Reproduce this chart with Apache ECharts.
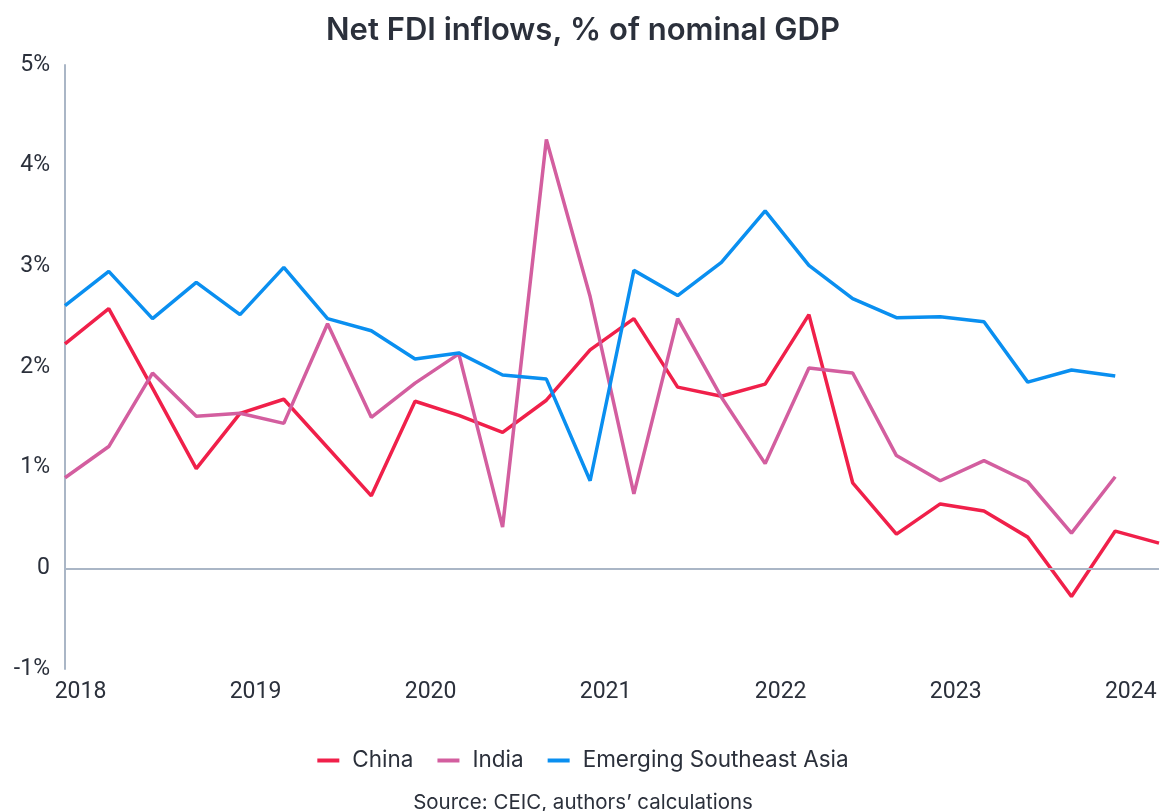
<!DOCTYPE html>
<html>
<head>
<meta charset="utf-8">
<title>Net FDI inflows</title>
<script src="https://cdn.jsdelivr.net/npm/echarts@6/dist/echarts.min.js"></script>
<style>
  html, body { margin: 0; padding: 0; background: #fff; }
  #chart { width: 1166px; height: 811px; }
</style>
</head>
<body>
<div id="chart"></div>
<script>
// quarterly categories, 2018Q1 .. 2024Q2
const quarters = [
  "2018Q1", "2018Q2", "2018Q3", "2018Q4",
  "2019Q1", "2019Q2", "2019Q3", "2019Q4",
  "2020Q1", "2020Q2", "2020Q3", "2020Q4",
  "2021Q1", "2021Q2", "2021Q3", "2021Q4",
  "2022Q1", "2022Q2", "2022Q3", "2022Q4",
  "2023Q1", "2023Q2", "2023Q3", "2023Q4",
  "2024Q1", "2024Q2"
];

// % of nominal GDP
const china = [2.23, 2.58, 1.79, 0.99, 1.54, 1.68, 1.20, 0.72,
  1.66, 1.52, 1.35, 1.67, 2.17, 2.48, 1.80, 1.71,
  1.83, 2.52, 0.85, 0.34, 0.64, 0.57, 0.31, -0.28,
  0.37, 0.25];
const india = [0.90, 1.21, 1.94, 1.51, 1.54, 1.44, 2.43, 1.50,
  1.84, 2.13, 0.41, 4.26, 2.70, 0.74, 2.48, 1.70,
  1.04, 1.99, 1.94, 1.12, 0.87, 1.07, 0.86, 0.35,
  0.91];
const esa = [2.61, 2.95, 2.48, 2.84, 2.52, 2.99, 2.48, 2.36,
  2.08, 2.14, 1.92, 1.88, 0.87, 2.96, 2.71, 3.04,
  3.55, 3.01, 2.68, 2.49, 2.50, 2.45, 1.85, 1.97,
  1.91];

const yTicks = [-1, 0, 1, 2, 3, 4, 5];

const textColor = "#2b303b";
const axisGray = "#aab6c6";

const chart = echarts.init(document.getElementById("chart"), null, { renderer: "canvas" });

function line(name, data, color) {
  return {
    name, type: "line", data,
    symbol: "none",
    lineStyle: { color, width: 3.5 },
    itemStyle: { color },
  };
}

const series = [
  line("China", china, "#f0204a"),
  line("India", india, "#d35e9f"),
  line("Emerging Southeast Asia", esa, "#0a8ff0"),
];
// zero line
series[0].markLine = {
  silent: true,
  symbol: "none",
  label: { show: false },
  lineStyle: { color: axisGray, width: 2, type: "solid" },
  data: [{ yAxis: 0 }],
};

chart.setOption({
  animation: false,
  title: [
    {
      text: "Net FDI inflows, % of nominal GDP",
      left: "center", top: 10,
      textStyle: { fontFamily: "Inter", fontSize: 31, fontWeight: 600, color: textColor },
    },
    {
      text: "Source: CEIC, authors\u2019 calculations",
      left: "center", top: 787,
      textStyle: { fontFamily: "Inter", fontSize: 20.5, fontWeight: 400, color: textColor },
    },
  ],
  legend: {
    data: ["China", "India", "Emerging Southeast Asia"],
    left: "center", top: 744,
    icon: "rect",
    itemWidth: 22, itemHeight: 4,
    itemGap: 24,
    textStyle: { fontFamily: "Inter", fontSize: 22.5, color: textColor, padding: [0, 0, 0, 8] },
  },
  grid: { left: 65, right: 7, top: 65, bottom: 142, containLabel: false },
  xAxis: {
    type: "category",
    data: quarters,
    boundaryGap: false,
    axisLine: { show: false, onZero: false },
    axisTick: { show: false },
    splitLine: { show: false },
    axisLabel: {
      interval: 0,
      margin: 12,
      fontFamily: "Roboto", fontSize: 23, color: textColor,
      padding: [0, 0, 0, 31],
      formatter: (v) => v.endsWith("Q1") ? v.slice(0, 4) : "",
    },
  },
  yAxis: {
    type: "value",
    min: yTicks[0], max: yTicks[yTicks.length - 1], interval: 1,
    axisLine: { show: true, lineStyle: { color: axisGray, width: 2 } },
    axisTick: { show: false },
    splitLine: { show: false },
    axisLabel: {
      margin: 15,
      fontFamily: "Roboto", fontSize: 23, color: textColor,
      formatter: (v) => v === 0 ? "0" : v + "%",
    },
  },
  series,
});
</script>
</body>
</html>
